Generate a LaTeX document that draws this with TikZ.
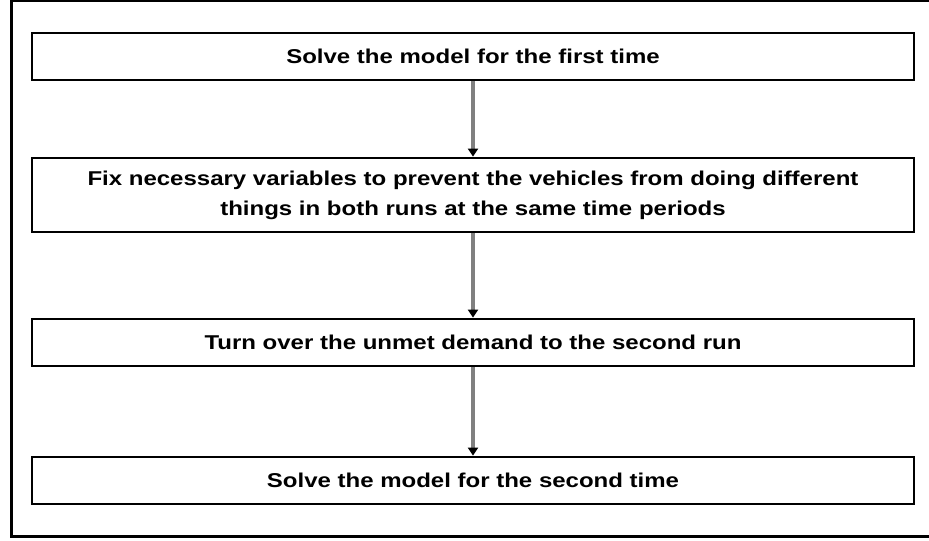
\documentclass[tikz,border=0pt]{standalone}
\usepackage{fontspec}
\usetikzlibrary{arrows.meta}
\newfontfamily\flowfont[FakeStretch=1.2]{Liberation Sans}
\tikzset{
    stepbox/.style={draw=black, line width=2pt, minimum width=661.5pt,
        minimum height=35.25pt, inner sep=0pt, align=center,
        font=\flowfont\bfseries\fontsize{15}{22.5}\selectfont},
    flowarrow/.style={draw=gray, line width=2.4pt,
        -{Triangle[color=black, length=6pt, width=7.5pt]}}
}
\begin{document}
\begin{tikzpicture}[x=0.75pt, y=-0.75pt]
    % Page size in pixels of the original figure
    \useasboundingbox (0,0) rectangle (929,541);

    % Outer frame (right side runs off the page)
    \draw[line width=2.25pt] (11,1) rectangle (932,537);

    % The four steps, top to bottom
    \node[stepbox] (first) at (473,56.5) {Solve the model for the first time};
    \node[stepbox, minimum height=55.5pt] (fix) at (473,195)
        {Fix necessary variables to prevent the vehicles from doing different\\
         things in both runs at the same time periods};
    \node[stepbox] (turn) at (473,342.5) {Turn over the unmet demand to the second run};
    \node[stepbox] (second) at (473,480.5) {Solve the model for the second time};

    % Arrows between the steps
    \draw[flowarrow] (first) -- (fix);
    \draw[flowarrow] (fix) -- (turn);
    \draw[flowarrow] (turn) -- (second);

\end{tikzpicture}
\end{document}
